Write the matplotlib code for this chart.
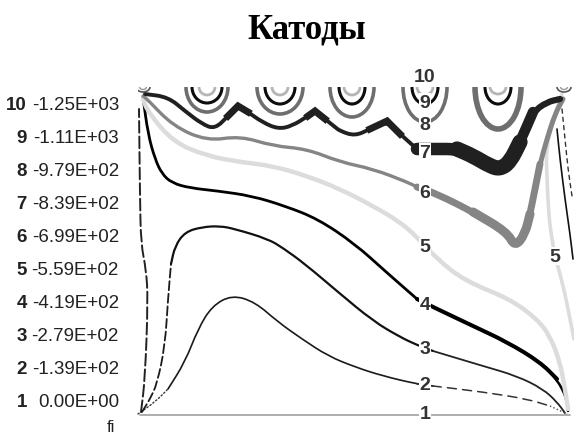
import numpy as np
import matplotlib.pyplot as plt
from matplotlib.patches import Arc, PathPatch
from matplotlib.path import Path

plt.rcParams['font.family'] = ['Liberation Sans', 'DejaVu Sans']

# potential levels of the legend
levels = [1, 2, 3, 4, 5, 6, 7, 8, 9, 10]
values = [0.0, -139, -279, -419, -559, -699, -839, -979, -1110, -1250]

# contour lines (x across the gap, h above the anode)
x1 = [0, 430]
h1 = [0, 0]

x2 = [-2, 15, 28, 45, 58, 72, 92, 115, 138, 162, 188, 215, 243, 277, 293, 343, 387, 410, 427]
h2 = [1, 13, 26, 53, 86, 109, 120, 113, 93, 76, 59, 48, 39, 31, 29, 23, 16, 9, 1]

x3 = [2, 10, 17, 25, 28, 31, 35, 45, 62, 80, 95, 128, 143, 165, 198, 233, 260, 277, 293, 343, 377, 403, 417, 425]
h3 = [3, 16, 31, 69, 116, 151, 169, 183, 188, 189, 186, 176, 167, 151, 123, 94, 78, 70, 64, 49, 39, 26, 13, 2]

x4 = [3, 8, 15, 22, 32, 50, 78, 112, 145, 178, 215, 245, 277, 293, 333, 367, 400, 417, 427, 428]
h4 = [318, 281, 256, 241, 232, 227, 224, 219, 209, 196, 171, 144, 116, 108, 89, 73, 53, 36, 16, 4]
x4b = [1, 5, 8, 6, 1, 0, -1]
h4b = [3, 36, 116, 146, 171, 216, 306]

x5 = [3, 8, 33, 67, 100, 133, 167, 200, 233, 260, 277, 297, 325, 370, 397, 410, 420, 425, 428]
h5 = [316, 303, 273, 259, 253, 249, 239, 226, 209, 193, 178, 156, 134, 116, 96, 79, 53, 26, 6]
x5b = [422, 412, 406, 407, 409, 412, 415, 420, 425, 430, 434]
h5b = [321, 291, 266, 236, 196, 176, 159, 141, 121, 96, 76]

x6 = [3, 7, 33, 67, 100, 133, 167, 200, 233, 267, 277, 297, 333, 367, 375, 385, 390, 395, 400, 407, 415, 423]
h6 = [319, 316, 289, 274, 279, 269, 266, 253, 246, 233, 228, 221, 203, 183, 168, 181, 201, 226, 251, 276, 301, 316]

x7 = [5, 28, 45, 62, 75, 88, 98, 108, 122, 138, 152, 168, 175, 185, 195, 200, 215, 230, 247, 260,
      277, 297, 317, 333, 350, 360, 370, 380, 393, 407, 420]
h7 = [321, 318, 304, 291, 286, 299, 309, 303, 293, 286, 289, 299, 304, 296, 288, 284, 279, 286, 294, 281,
      266, 266, 266, 259, 249, 246, 253, 273, 303, 313, 316]

# extra branches near the right wall
xr1 = [417, 420, 425, 430, 433]
hr1 = [286, 256, 216, 181, 156]
xr2 = [422, 425, 428, 432]
hr2 = [306, 276, 246, 219]

# loops 8, 9, 10 around the cathodes
cath_x = [67, 140, 212, 285, 358]
w8 = [21, 23, 22, 22, 23]
d8 = [25, 27, 30, 35, 42]
w9 = [15, 15, 13, 13, 13]
d9 = [16, 17, 17, 17, 17]
w10 = [8, 8, 8, 8, 8]
d10 = [8, 8, 8, 8, 7]
top = 328

lab_x = 285
lab_h = [1, 30, 66, 111, 168, 223, 263, 291, 313, 339]

fig = plt.figure(figsize=(5.74, 4.35), dpi=100)
ax = fig.add_axes([138/574, 16/435, 436/574, 331/435])
ax.set_xlim(-2, 434)
ax.set_ylim(-3, 328)
ax.axis('off')


def seg(x, h, i0, i1, color, lw, ls='-'):
    # smooth drawing of the read points (quadratic bezier through midpoints)
    p = np.column_stack([x[i0:i1], h[i0:i1]]).astype(float)
    if len(p) < 3:
        ax.plot(p[:, 0], p[:, 1], color=color, lw=lw, ls=ls, clip_on=False, solid_capstyle='round')
        return
    verts = [p[0], (p[0] + p[1]) / 2]
    codes = [Path.MOVETO, Path.LINETO]
    for k in range(1, len(p) - 1):
        verts += [p[k], (p[k] + p[k + 1]) / 2]
        codes += [Path.CURVE3, Path.CURVE3]
    verts.append(p[-1])
    codes.append(Path.LINETO)
    ax.add_patch(PathPatch(Path(verts, codes), fill=False, edgecolor=color, lw=lw, ls=ls,
                           capstyle='round', joinstyle='round', clip_on=False))


# level 1
seg(x1, h1, 0, 2, '#a8a8a8', 1.3)
# level 2
seg(x2, h2, 0, 3, '#333333', 1.0, ':')
seg(x2, h2, 2, 15, '#1a1a1a', 1.2)
seg(x2, h2, 13, 18, '#333333', 1.1, (0, (6, 4)))
seg(x2, h2, 17, 19, '#444444', 1.0, ':')
# level 3
seg(x3, h3, 0, 6, '#1a1a1a', 1.3, (0, (5, 2)))
seg(x3, h3, 5, 19, '#111111', 1.6)
seg(x3, h3, 18, 24, '#222222', 1.3)
# level 4
seg(x4, h4, 0, 13, '#000000', 2.0)
seg(x4, h4, 12, 20, '#000000', 1.8)
seg(x4, h4, 12, 18, '#000000', 2.9)
seg(x4b, h4b, 0, 7, '#222222', 1.4, (0, (6, 2)))
# level 5
seg(x5, h5, 0, 19, '#dcdcdc', 3.2)
seg(x5b, h5b, 0, 11, '#dcdcdc', 2.6)
# level 6
seg(x6, h6, 0, 11, '#858585', 2.4)
seg(x6, h6, 10, 22, '#858585', 3.6)
seg(x6, h6, 10, 19, '#858585', 5.0)
seg(x6, h6, 12, 17, '#858585', 6.5)
# level 7 (sharp ridges between the cathodes)
seg(x7, h7, 0, 21, '#202020', 2.8)
for p in (6, 12, 18):
    ax.plot(x7[p - 1:p + 2], h7[p - 1:p + 2], color='#202020', lw=5.0, solid_joinstyle='miter')
seg(x7, h7, 20, 31, '#202020', 4.5)
seg(x7, h7, 20, 29, '#202020', 7.5)
seg(x7, h7, 20, 28, '#202020', 9)
seg(x7, h7, 22, 28, '#202020', 11)
# right wall branches
seg(xr1, hr1, 0, 5, '#111111', 1.2)
seg(xr2, hr2, 0, 4, '#333333', 1.0, (0, (3, 3)))

# cathode loops
for i, cx in enumerate(cath_x):
    lw8 = 4.0 if i == 4 else 2.6
    ax.add_patch(Arc((cx, top), 2*w8[i], 2*d8[i], theta1=180, theta2=360, color='#6e6e6e', lw=lw8))
    ax.add_patch(Arc((cx, top), 2*w9[i], 2*d9[i], theta1=180, theta2=360, color='#0d0d0d', lw=2.2))
    ax.add_patch(Arc((cx, top), 2*w10[i], 2*d10[i], theta1=180, theta2=360, color='#b5b5b5', lw=2.0))
for cx in (3, 424):
    ax.add_patch(Arc((cx, top), 14, 10, theta1=180, theta2=360, color='#555555', lw=1.2))
    ax.add_patch(Arc((cx, top), 7, 5, theta1=180, theta2=360, color='#999999', lw=1.0))

# labels on the lines
for lv, hh in zip(levels, lab_h):
    ax.text(lab_x, hh, str(lv), ha='center', va='center', fontsize=14, fontweight='bold',
            color='#333333', bbox=dict(fc='white', ec='none', pad=0.6), clip_on=False)
ax.text(415, 159, '5', ha='center', va='center', fontsize=14, fontweight='bold',
        color='#333333', bbox=dict(fc='white', ec='none', pad=0.6))

# legend on the left
for lv, v in zip(levels, values):
    py = 403 - (lv - 1) * 33.1
    fig.text(27/574, 1 - py/435, str(lv), ha='right', va='center', fontsize=13.5,
             fontweight='bold', color='#222222')
    fig.text(119/574, 1 - py/435, f'{v:.2E}', ha='right', va='center', fontsize=13.5,
             color='#222222')
fig.text(111/574, 1 - 428/435, 'fi', ha='center', va='center', fontsize=12, color='#222222')

fig.text(307/574, 1 - 30/435, 'Катоды', ha='center', va='center', fontsize=25,
         fontweight='bold', family=['Liberation Serif', 'DejaVu Serif'])

fig.savefig('out.png', dpi=100, facecolor='white')
